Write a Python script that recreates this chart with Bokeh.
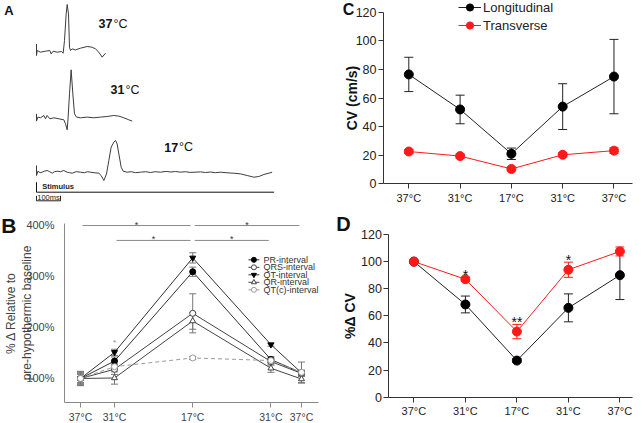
from bokeh.plotting import figure
from bokeh.layouts import row, column
from bokeh.models import (Range1d, FixedTicker, Whisker, TeeHead, ColumnDataSource,
                          Label, Legend, LegendItem)
from bokeh.core.properties import value
from bokeh.embed import file_html
from bokeh.resources import INLINE

FONT = "Liberation Sans"

# ---------------- data ----------------
# Panel A: example electrograms, (time after stimulus in ms, amplitude in a.u.)
trace_37c = [(0, 0.83), (0, -0.33), (2.8, 0.17), (16.7, 0), (37.5, 0.1), (55.6, 0.17), (61.1, -0.17),
             (69.4, 0.1), (86.1, 0), (104.2, 0.07), (111.1, -0.1), (116.7, 1.17), (123.6, 3.83),
             (127.8, 4.77), (133.3, 3.83), (137.5, 0.5), (141.7, 0.17), (148.6, 0.33), (162.5, 0.23),
             (183.3, 0.4), (211.1, 0.57), (231.9, 0.5), (245.8, 0.33), (259.7, 0), (273.6, -0.5),
             (287.5, -0.1)]
trace_31c = [(0, 0.4), (0, -0.33), (5.6, 0.07), (16.7, 0), (30.6, 0.23), (37.5, -0.1), (44.4, 0.23),
             (55.6, -0.1), (72.2, 0), (93.1, -0.1), (113.9, -0.2), (120.8, -0.6), (127.8, -1.2),
             (131.9, 0.07), (137.5, 2.4), (144.4, 4.8), (151.4, 2.4), (158.3, 0.4), (166.7, 0.07),
             (183.3, 0), (211.1, 0.07), (238.9, 0), (266.7, 0.07), (294.4, 0.13), (322.2, 0.23),
             (343.1, 0.17), (363.9, 0), (384.7, -0.2), (398.6, -0.33)]
trace_17c = [(0, 0.67), (0, -0.33), (5.6, 0.1), (15, -0.05), (23.6, 0), (33, 0.1), (44.4, 0.17),
             (55, 0.05), (65.3, -0.1), (75, 0.05), (86.1, 0.1), (100, 0.05), (113.9, 0.17),
             (127.8, 0), (138, -0.05), (148.6, -0.1), (165, 0.05), (183.3, 0), (200, -0.05),
             (212, 0.05), (225, 0), (240, -0.05), (259.7, -0.1), (269.4, -0.33), (280.6, -0.83),
             (291.7, -0.17), (301.4, 1.17), (311.1, 2.5), (322.2, 3.0), (329.2, 3.17), (336.1, 2.83),
             (343.1, 1.83), (352.8, 0.5), (361.1, 0.1), (377.8, 0), (395, 0.05), (412, -0.05),
             (433.3, 0), (455, 0.05), (475, -0.03), (495, 0.05), (516.7, 0), (540, 0.08),
             (560, 0.02), (580, 0.07), (600, 0), (620, 0.05), (640, -0.02), (660, 0), (683.3, 0.03),
             (705, -0.03), (725, 0.02), (745, -0.05), (766.7, 0), (790, -0.05), (808, -0.08),
             (822.2, -0.1), (850, -0.17), (877.8, -0.33), (905.6, -0.5), (926.4, -0.43),
             (947.2, -0.23), (968.1, -0.1), (981.9, 0)]
a_temps = ["37", "31", "17"]
stimulus_span_ms = [0, 990]
scale_bar_ms = [0, 100]

# Panel B: % change relative to pre-hypothermic baseline
temps = ["37°C", "31°C", "17°C", "31°C", "37°C"]
b_time = [0, 10, 33, 56, 65]
pr_interval = [100, 134, 308, 137, 111]
pr_err = [14, 8, 9, 6, 5]
qrs_interval = [100, 118, 227, 133, 110]
qrs_err = [13, 10, 38, 7, 6]
qt_interval = [100, 151, 335, 166, 111]
qt_err = [10, 6, 10, 3, 4]
qr_interval = [100, 101, 212, 120, 99]
qr_err = [12, 12, 16, 8, 8]
qtc_interval = [100, 123, 140, 135, 112]
qtc_err = [8, 5, 3, 4, 20]
b_yticks = [100, 200, 300, 400]
b_sig_pairs = [(0, 2), (2, 4), (1, 2), (2, 3)]
b_sig_level = [398, 398, 369, 369]
b_star_31 = 171

# Panel C: conduction velocity (cm/s)
cv_long = [76.5, 52, 21, 54, 75]
cv_long_err = [12, 10, 4, 16, 26]
cv_trans = [22.6, 19.4, 10.4, 20.3, 23.2]
cv_trans_err = [1.5, 1.5, 1.2, 1.5, 2]
c_yticks = [0, 20, 40, 60, 80, 100, 120]

# Panel D: % change in CV
pct_long = [100, 68.4, 27, 65.9, 90]
pct_long_err = [0, 6.2, 1.5, 10.3, 18]
pct_trans = [100, 87, 48.4, 94, 107.5]
pct_trans_err = [0, 1.5, 5.3, 5.6, 3.3]
d_stars = ["", "*", "**", "*", ""]

RED = "#ff1a1a"


def make_fig(w, h, xr, yr, **kw):
    # the frame fills the whole canvas; axes are pinned with fixed_location
    p = figure(width=w, height=h, x_range=xr, y_range=yr, output_backend="svg",
               toolbar_location=None, min_border=0, frame_align=False, **kw)
    p.grid.visible = False
    p.outline_line_color = None
    p.background_fill_color = "white"
    p.border_fill_color = "white"
    return p


def whisker(p, xs, ys, errs, color, size, width=1):
    src = ColumnDataSource(dict(x=xs, up=[y + e for y, e in zip(ys, errs)],
                                lo=[y - e for y, e in zip(ys, errs)]))
    w = Whisker(source=src, base="x", upper="up", lower="lo", line_color=color, line_width=width,
                upper_head=TeeHead(size=size, line_color=color, line_width=width),
                lower_head=TeeHead(size=size, line_color=color, line_width=width))
    p.add_layout(w)


def letter(p, x, y, txt, size):
    p.add_layout(Label(x=x, y=y, text=txt, text_font=FONT, text_font_style="bold",
                       text_font_size=size, text_align="center", text_baseline="middle",
                       text_color="#111"))


# ---------------- Panel A ----------------
pA = make_fig(321, 210, Range1d(-150, 1187.5), Range1d(-21, 0),
              x_axis_location=None, y_axis_location=None)
offsets = [-5.17, -11.73, -17.17]
label_anchor = [316.7, 366.7, 590]
label_rise = [2.84, 2.8, 2.5]
for tr, off in zip([trace_37c, trace_31c, trace_17c], offsets):
    pA.line([t for t, v in tr], [v + off for t, v in tr], line_color="#3c3c3c", line_width=1)
lab_y = [o + r for o, r in zip(offsets, label_rise)]
pA.text(x=label_anchor, y=lab_y, text=a_temps, text_font=value(FONT), text_font_style="bold",
        text_font_size="12.5px", text_align="right", text_baseline="middle", text_color="#111")
pA.text(x=label_anchor, y=lab_y, text=["°C"] * 3, text_font=value(FONT),
        text_font_size="12.5px", text_align="left", text_baseline="middle", text_color="#111",
        x_offset=1)
stim_y = -19.17
pA.line(stimulus_span_ms, [stim_y] * 2, line_color="#111", line_width=1)
pA.segment(x0=[0], y0=[stim_y], x1=[0], y1=[stim_y + 1.0], line_color="#111", line_width=1)
pA.text(x=[24], y=[stim_y + 0.6], text=["Stimulus"], text_font=value(FONT), text_font_style="bold",
        text_font_size="7.5px", text_baseline="middle", text_color="#222")
sb_y = -20.03
pA.line(scale_bar_ms, [sb_y] * 2, line_color="#222", line_width=1)
pA.segment(x0=scale_bar_ms, y0=[sb_y] * 2, x1=scale_bar_ms, y1=[sb_y + 0.5] * 2,
           line_color="#222", line_width=1)
pA.text(x=[sum(scale_bar_ms) / 2], y=[sb_y + 0.3], text=["100ms"], text_font=value(FONT),
        text_font_size="7.5px", text_align="center", text_baseline="middle", text_color="#222")
letter(pA, -115, -0.95, "A", "13px")

# ---------------- Panel B ----------------
BX0, BX1, BY0, BY1 = -4.7, 70.0, 53.2, 402
pB = make_fig(321, 213, Range1d(-23.53, 70.88), Range1d(12.33, 427.3))
ax = pB.yaxis[0]
ax.fixed_location = BX0
ax.ticker = FixedTicker(ticks=b_yticks)
ax.major_label_overrides = {t: f"{t}%" for t in b_yticks}
ax.bounds = (BY0, BY1)
ax.axis_line_color = "#8a8a8a"
ax.major_tick_line_color = None
ax.minor_tick_line_color = None
ax.major_label_text_font = FONT
ax.major_label_text_font_size = "11px"
ax.major_label_text_color = "#444"
ax.major_label_standoff = 4
ax.axis_label = "% \u0394 Relative to\npre-hypothermic baseline"
ax.axis_label_text_font = FONT
ax.axis_label_text_font_size = "12px"
ax.axis_label_text_font_style = "normal"
ax.axis_label_text_color = "#444"
ax.axis_label_standoff = -11
bx = pB.xaxis[0]
bx.fixed_location = BY0
bx.bounds = (BX0, BX1)
bx.ticker = FixedTicker(ticks=b_time)
bx.major_label_overrides = {t: l for t, l in zip(b_time, temps)}
bx.axis_line_color = "#8a8a8a"
bx.major_tick_line_color = "#8a8a8a"
bx.major_tick_out = 5
bx.major_tick_in = 0
bx.minor_tick_line_color = None
bx.major_label_text_font = FONT
bx.major_label_text_font_size = "10.5px"
bx.major_label_text_color = "#444"
bx.major_label_standoff = 3

b_series = [
    ("PR-interval", pr_interval, pr_err, "circle", "black", "#333", "solid"),
    ("QRS-interval", qrs_interval, qrs_err, "circle", "white", "#444", "solid"),
    ("QT-interval", qt_interval, qt_err, "inverted_triangle", "black", "#333", "solid"),
    ("QR-interval", qr_interval, qr_err, "triangle", "white", "#444", "solid"),
    ("QT(c)-interval", qtc_interval, qtc_err, "circle", "white", "#9a9a9a", "4 3"),
]
# legend block (drawn by hand: rows are tighter than Bokeh's Legend allows)
leg_top, leg_step = 331.2, 14.6
leg_x0, leg_x1, leg_xm, leg_xt = 49.4, 52.6, 51.0, 53.8
for k, (name, vals, errs, marker, fill, col, dash) in enumerate(b_series):
    whisker(pB, b_time, vals, errs, "#777", 7)
    pB.line(b_time, vals, line_color=col, line_width=1, line_dash=dash)
    mcol = col if fill == "white" else "black"
    pB.scatter(b_time, vals, marker=marker, size=6, fill_color=fill, line_color=mcol, line_width=1)
    ly = leg_top - k * leg_step
    pB.line([leg_x0, leg_x1], [ly, ly], line_color=col, line_width=1)
    pB.scatter([leg_xm], [ly], marker=marker, size=5, fill_color=fill, line_color=mcol, line_width=1)
    pB.text(x=[leg_xt], y=[ly], text=[name], text_font=value(FONT), text_font_size="9px",
            text_baseline="middle", text_color="#333")

gap = 0.6
sx0 = [b_time[i] + gap for i, j in b_sig_pairs]
sx1 = [b_time[j] - gap for i, j in b_sig_pairs]
pB.segment(x0=sx0, y0=b_sig_level, x1=sx1, y1=b_sig_level, line_color="#8a8a8a", line_width=1)
pB.text(x=[(a + b) / 2 for a, b in zip(sx0, sx1)], y=b_sig_level, text=["*"] * 4,
        text_font=value(FONT), text_font_size="9px", text_align="center",
        text_baseline="alphabetic", y_offset=-1, text_color="#333")
pB.text(x=[b_time[1]], y=[b_star_31], text=["*"], text_font=value(FONT), text_font_size="8px",
        text_align="center", text_baseline="middle", text_color="#888")
letter(pB, -21.1, 399, "B", "21px")


def style_cd(p, x0, x1, yticks, ylabel, label_standoff):
    for a in p.axis:
        a.axis_line_color = "#333"
        a.major_tick_line_color = "#333"
        a.major_tick_out = 5
        a.major_tick_in = 0
        a.minor_tick_line_color = None
        a.major_label_text_font = FONT
        a.major_label_text_color = "#222"
    xa = p.xaxis[0]
    xa.fixed_location = yticks[0]
    xa.bounds = (x0, x1)
    xa.ticker = FixedTicker(ticks=list(range(len(temps))))
    xa.major_label_overrides = {i: t for i, t in enumerate(temps)}
    xa.major_label_text_font_size = "11px"
    xa.major_label_standoff = 3
    ya = p.yaxis[0]
    ya.fixed_location = x0
    ya.ticker = FixedTicker(ticks=yticks)
    ya.bounds = (yticks[0], yticks[-1])
    ya.major_label_text_font_size = "12.5px"
    ya.major_label_standoff = 2
    ya.axis_label = ylabel
    ya.axis_label_text_font = FONT
    ya.axis_label_text_font_style = "bold"
    ya.axis_label_text_font_size = "14px"
    ya.axis_label_text_color = "#111"
    ya.axis_label_standoff = label_standoff


xs = list(range(len(temps)))

# ---------------- Panel C ----------------
pC = make_fig(321, 210, Range1d(-1.702, 4.556), Range1d(-18.66, 128.2))
style_cd(pC, -0.493, 4.36, c_yticks, "CV (cm/s)", -7)
whisker(pC, xs, cv_long, cv_long_err, "#222", 9)
whisker(pC, xs, cv_trans, cv_trans_err, RED, 9)
l1 = pC.line(xs, cv_long, line_color="#222", line_width=1)
s1 = pC.scatter(xs, cv_long, size=9, fill_color="black", line_color="black")
l2 = pC.line(xs, cv_trans, line_color=RED, line_width=1)
s2 = pC.scatter(xs, cv_trans, size=9, fill_color=RED, line_color=RED)
legC = Legend(items=[LegendItem(label="Longitudinal", renderers=[l1, s1]),
                     LegendItem(label="Transverse", renderers=[l2, s2])],
              location=(137, 176), glyph_width=23, glyph_height=18, label_height=18,
              spacing=0, padding=0, margin=0, label_standoff=2,
              border_line_color=None, background_fill_alpha=0,
              label_text_font=FONT, label_text_font_size="13px", label_text_color="#222")
pC.add_layout(legC)
letter(pC, -1.177, 121.7, "C", "16px")

# ---------------- Panel D ----------------
pD = make_fig(321, 213, Range1d(-1.794, 4.439), Range1d(-19.4, 137.7))
style_cd(pD, -0.485, 4.25, c_yticks, "%\u0394 CV", 0)
whisker(pD, xs, pct_long, pct_long_err, "#222", 9)
whisker(pD, xs, pct_trans, pct_trans_err, RED, 9)
pD.line(xs, pct_long, line_color="#222", line_width=1)
pD.scatter(xs, pct_long, size=9, fill_color="black", line_color="black")
pD.line(xs, pct_trans, line_color=RED, line_width=1)
pD.scatter(xs, pct_trans, size=9, fill_color=RED, line_color=RED)
pD.text(x=xs, y=[v + e for v, e in zip(pct_trans, pct_trans_err)], text=d_stars,
        text_font=value(FONT), text_font_size="14px", text_align="center",
        text_baseline="alphabetic", y_offset=-2, text_color="#111")
letter(pD, -1.365, 127.4, "D", "20px")

layout = column(row(pA, pC), row(pB, pD))
open("out.html", "w").write(file_html(layout, INLINE))
